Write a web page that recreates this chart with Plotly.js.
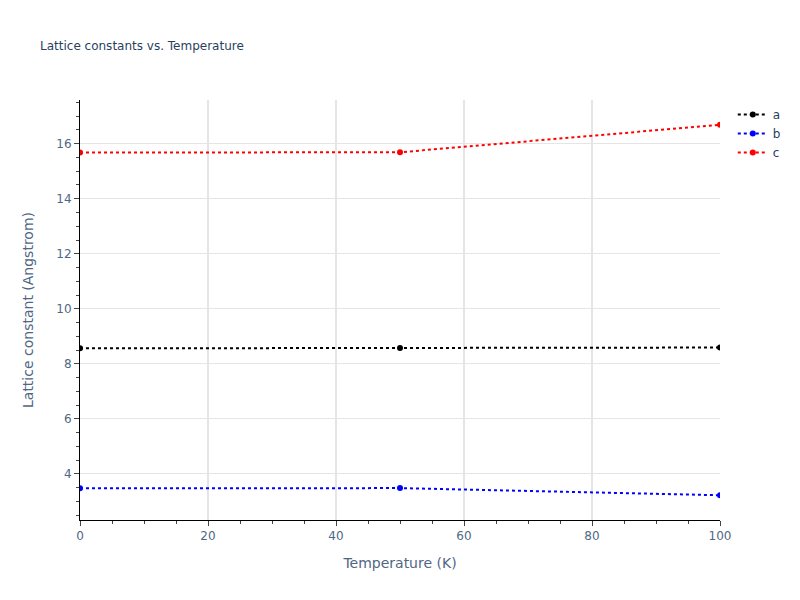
<!DOCTYPE html>
<html>
<head>
<meta charset="utf-8">
<script src="https://cdn.plot.ly/plotly-3.0.1.min.js"></script>
<style>
  html, body { margin: 0; padding: 0; background: #fff; }
  #chart { width: 800px; height: 600px; }
</style>
</head>
<body>
<div id="chart"></div>
<script>
// ── Data ────────────────────────────────────────────────────────────
const temperatures = [0, 50, 100];
const latticeA = [8.56, 8.57, 8.59];
const latticeB = [3.47, 3.48, 3.22];
const latticeC = [15.68, 15.69, 16.69];

const seriesNames = ["a", "b", "c"];
const seriesColors = ["black", "blue", "red"];
const seriesValues = [latticeA, latticeB, latticeC];

const FONT_COLOR = "#2a3f5f";
const AXIS_TITLE_COLOR = "#506784";

// ── Traces ──────────────────────────────────────────────────────────
const traces = seriesNames.map((name, i) => ({
  x: temperatures,
  y: seriesValues[i],
  type: "scatter",
  mode: "lines+markers",
  name,
  line: { color: seriesColors[i], dash: "dot", width: 2 },
  marker: { color: seriesColors[i], size: 6 },
}));

const axisCommon = {
  showline: true,
  linecolor: "black",
  linewidth: 1,
  ticks: "outside",
  tickcolor: "#444",
  ticklen: 5,
  showgrid: true,
  gridcolor: "#e5e5e5",
  zeroline: false,
  automargin: false,
  tickfont: { size: 12, color: AXIS_TITLE_COLOR },
};

const layout = {
  width: 800,
  height: 600,
  title: {
    text: "Lattice constants vs. Temperature",
    x: 0.05,
    font: { size: 12, color: FONT_COLOR },
  },
  font: { family: "Verdana, 'DejaVu Sans', sans-serif", color: FONT_COLOR },
  xaxis: Object.assign({}, axisCommon, {
    title: { text: "Temperature (K)", standoff: 15, font: { size: 14, color: AXIS_TITLE_COLOR } },
    range: [0, 100],
    dtick: 20,
    gridwidth: 2,
    minor: { dtick: 5, ticks: "outside", ticklen: 3, tickcolor: "#444", showgrid: false },
  }),
  yaxis: Object.assign({}, axisCommon, {
    title: { text: "Lattice constant (Angstrom)", standoff: 19, font: { size: 14, color: AXIS_TITLE_COLOR } },
    dtick: 2,
    minor: { dtick: 0.5, ticks: "outside", ticklen: 3, tickcolor: "#444", showgrid: false },
  }),
  legend: { font: { size: 12, color: FONT_COLOR } },
  margin: { t: 100, r: 80, b: 80, l: 80 },
  plot_bgcolor: "#fff",
  paper_bgcolor: "#fff",
};

Plotly.newPlot("chart", traces, layout, { displayModeBar: false });
</script>
</body>
</html>
